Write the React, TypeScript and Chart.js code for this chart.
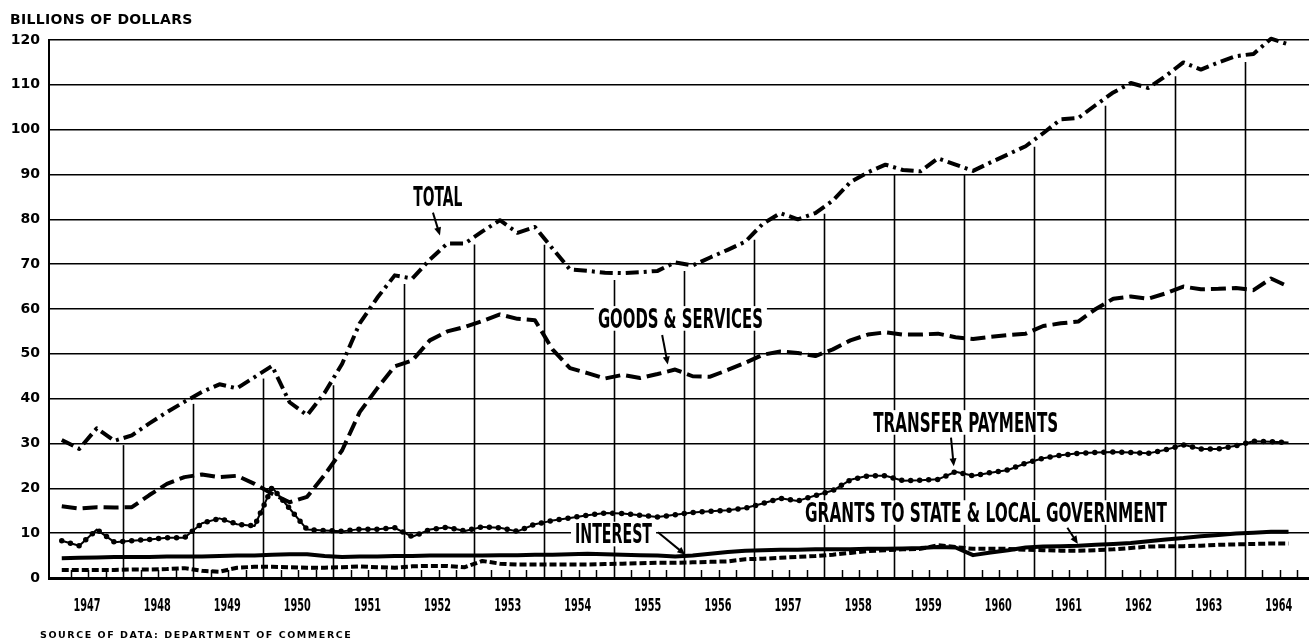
import React, { useEffect, useRef } from 'react';
import { Chart, registerables } from 'chart.js';

Chart.register(...registerables);

// ---------- DATA (quarterly, seasonally adjusted annual rates, billions of dollars) ----------
const START_YEAR = 1947;
const yearLabels = [1947, 1948, 1949, 1950, 1951, 1952, 1953, 1954, 1955, 1956, 1957, 1958, 1959, 1960, 1961, 1962, 1963, 1964];
const yTicks = [0, 10, 20, 30, 40, 50, 60, 70, 80, 90, 100, 110, 120];

const total = [
  30.8, 28.8, 33.4, 30.6,
  31.8, 34.5, 37.0, 39.3,
  41.5, 43.2, 42.3, 44.8,
  47.3, 39.2, 36.3, 41.3,
  47.8, 56.8, 62.5, 67.5,
  66.8, 71.0, 74.6, 74.6,
  77.3, 79.8, 77.0, 78.3,
  73.5, 68.8, 68.5, 68.1,
  68.0, 68.2, 68.5, 70.4,
  69.7, 71.5, 73.2, 75.0,
  79.0, 81.4, 80.0, 81.4,
  84.2, 88.3, 90.5, 92.2,
  91.0, 90.7, 93.6, 92.2,
  90.8, 92.7, 94.5, 96.3,
  99.2, 102.3, 102.6, 105.5,
  108.3, 110.4, 109.3, 112.0,
  115.0, 113.4, 115.0, 116.4,
  116.9, 120.3, 119.0,
];

const goodsServices = [
  16.0, 15.5, 15.8, 15.7,
  15.8, 18.5, 21.0, 22.5,
  23.1, 22.5, 22.8, 21.0,
  18.8, 16.9, 18.1, 23.0,
  28.5, 37.0, 42.3, 47.2,
  48.5, 53.0, 55.0, 56.0,
  57.3, 58.8, 57.8, 57.5,
  51.0, 46.8, 45.7, 44.5,
  45.3, 44.6, 45.5, 46.5,
  45.0, 44.9, 46.4, 48.0,
  49.8, 50.5, 50.2, 49.5,
  51.0, 53.0, 54.3, 54.8,
  54.3, 54.3, 54.5, 53.7,
  53.3, 53.8, 54.2, 54.5,
  56.2, 56.8, 57.2, 60.0,
  62.3, 62.8, 62.3, 63.5,
  65.0, 64.4, 64.5, 64.7,
  64.2, 66.8, 65.0,
];

const transferPayments = [
  8.3, 7.2, 10.8, 8.0,
  8.3, 8.6, 9.0, 9.0,
  12.2, 13.3, 12.0, 11.6,
  20.2, 15.5, 10.8, 10.6,
  10.4, 10.9, 10.9, 11.2,
  9.2, 10.8, 11.3, 10.5,
  11.4, 11.2, 10.4, 12.0,
  12.8, 13.4, 14.0, 14.5,
  14.4, 14.0, 13.6, 14.1,
  14.6, 14.9, 15.1, 15.6,
  16.6, 17.8, 17.2, 18.4,
  19.5, 21.9, 22.8, 22.8,
  21.7, 21.8, 22.0, 23.7,
  22.8, 23.5, 24.1, 25.6,
  26.7, 27.4, 27.8, 28.0,
  28.1, 28.0, 27.8, 28.6,
  29.7, 28.8, 28.8, 29.5,
  30.5, 30.4, 30.2,
];

const interest = [
  4.4, 4.5, 4.6, 4.7,
  4.7, 4.7, 4.8, 4.8,
  4.8, 4.9, 5.0, 5.0,
  5.2, 5.3, 5.3, 4.9,
  4.7, 4.8, 4.8, 4.9,
  4.9, 5.0, 5.0, 5.0,
  5.0, 5.1, 5.1, 5.2,
  5.2, 5.3, 5.4, 5.3,
  5.2, 5.1, 5.0, 4.8,
  5.0, 5.4, 5.8, 6.1,
  6.2, 6.3, 6.3, 6.4,
  6.4, 6.4, 6.5, 6.5,
  6.6, 6.7, 6.9, 6.8,
  5.1, 5.7, 6.2, 6.8,
  7.0, 7.1, 7.2, 7.4,
  7.6, 7.8, 8.2, 8.6,
  8.9, 9.3, 9.6, 9.9,
  10.1, 10.3, 10.3,
];

const grants = [
  1.8, 1.8, 1.8, 1.8,
  1.9, 1.9, 2.0, 2.2,
  1.6, 1.4, 2.3, 2.5,
  2.5, 2.4, 2.3, 2.3,
  2.4, 2.6, 2.4, 2.3,
  2.6, 2.7, 2.7, 2.4,
  3.8, 3.2, 3.0, 3.0,
  3.0, 3.0, 3.0, 3.1,
  3.2, 3.3, 3.4, 3.4,
  3.5, 3.6, 3.7, 4.2,
  4.3, 4.5, 4.7, 4.9,
  5.2, 5.6, 6.0, 6.2,
  6.4, 6.5, 7.3, 6.9,
  6.5, 6.5, 6.5, 6.3,
  6.2, 6.1, 6.1, 6.2,
  6.4, 6.7, 7.0, 7.1,
  7.1, 7.2, 7.4, 7.5,
  7.6, 7.7, 7.7,
];

// ---------- helpers ----------
const quarterX = (i: number) => START_YEAR + (i + 0.5) / 4;
const toPoints = (values: number[]) => values.map((v, i) => ({ x: quarterX(i), y: v }));

const valueAt = (values: number[], t: number) => {
  for (let i = 0; i < values.length - 1; i++) {
    const a = quarterX(i);
    const b = quarterX(i + 1);
    if (t >= a && t <= b) return values[i] + ((values[i + 1] - values[i]) * (t - a)) / (b - a);
  }
  return t < quarterX(0) ? values[0] : values[values.length - 1];
};

// annotation placement (data units) and styling
const notes = [
  { text: 'TOTAL', x: 1952.49, y: 85.0, width: 49, from: [1952.42, 81.5], to: [1952.52, 76.4] },
  { text: 'GOODS & SERVICES', x: 1955.95, y: 57.9, width: 165, from: [1955.69, 54.2], to: [1955.77, 47.6] },
  { text: 'TRANSFER PAYMENTS', x: 1960.02, y: 34.7, width: 185, from: [1959.81, 31.3], to: [1959.85, 24.9] },
  { text: 'GRANTS TO STATE & LOCAL GOVERNMENT', x: 1960.31, y: 14.6, width: 362, from: [1961.47, 11.2], to: [1961.62, 7.6] },
  { text: 'INTEREST', x: 1954.996, y: 9.8, width: 77, from: [1955.63, 10.2], to: [1956.02, 5.2] },
];

const NOTE_FONT = 'bold 26px "DejaVu Sans Condensed", "DejaVu Sans", sans-serif';
const CAP = 18.6;
const YEAR_FONT = 'bold 17px "DejaVu Sans Condensed", "DejaVu Sans", sans-serif';
const YEAR_LABEL_WIDTH = 27;

const decorPlugin = {
  id: 'decor',
  beforeDatasetsDraw(chart: any) {
    const { ctx, chartArea, scales } = chart;
    const xs = scales.x;
    const ys = scales.y;
    ctx.save();
    ctx.strokeStyle = '#000';
    // vertical year separators reaching up to just under the TOTAL line
    ctx.lineWidth = 1.6;
    for (let yr = START_YEAR + 1; yr <= yearLabels[yearLabels.length - 1]; yr++) {
      const px = Math.round(xs.getPixelForValue(yr)) + 0.5;
      const top = ys.getPixelForValue(valueAt(total, yr)) + 7;
      ctx.beginPath();
      ctx.moveTo(px, top);
      ctx.lineTo(px, chartArea.bottom + 2);
      ctx.stroke();
    }
    // quarterly tick marks on the base line
    ctx.lineWidth = 1.5;
    for (let q = 1; q <= yearLabels.length * 4; q++) {
      if (q % 4 === 0) continue;
      const t = START_YEAR + q / 4;
      const px = Math.round(xs.getPixelForValue(t)) + 0.5;
      if (px > chartArea.right - 2) break;
      ctx.beginPath();
      ctx.moveTo(px, chartArea.bottom);
      ctx.lineTo(px, chartArea.bottom - 8);
      ctx.stroke();
    }
    // labels with arrows
    for (const n of notes) {
      const cx = xs.getPixelForValue(n.x);
      const cy = ys.getPixelForValue(n.y);
      ctx.fillStyle = '#fff';
      ctx.fillRect(cx - n.width / 2 - 4, cy - CAP / 2 - 3, n.width + 8, CAP + 6);
      ctx.font = NOTE_FONT;
      const m = ctx.measureText(n.text).width;
      ctx.save();
      ctx.translate(cx, cy + CAP / 2);
      ctx.scale(n.width / m, 1);
      ctx.textAlign = 'center';
      ctx.textBaseline = 'alphabetic';
      ctx.fillStyle = '#000';
      ctx.fillText(n.text, 0, 0);
      ctx.restore();

      const x1 = xs.getPixelForValue(n.from[0]);
      const y1 = ys.getPixelForValue(n.from[1]);
      const x2 = xs.getPixelForValue(n.to[0]);
      const y2 = ys.getPixelForValue(n.to[1]);
      const ang = Math.atan2(y2 - y1, x2 - x1);
      const hl = 8;
      const hw = 3.5;
      ctx.lineWidth = 2;
      ctx.beginPath();
      ctx.moveTo(x1, y1);
      ctx.lineTo(x2 - Math.cos(ang) * hl * 0.8, y2 - Math.sin(ang) * hl * 0.8);
      ctx.stroke();
      ctx.fillStyle = '#000';
      ctx.beginPath();
      ctx.moveTo(x2, y2);
      ctx.lineTo(x2 - Math.cos(ang) * hl + Math.sin(ang) * hw, y2 - Math.sin(ang) * hl - Math.cos(ang) * hw);
      ctx.lineTo(x2 - Math.cos(ang) * hl - Math.sin(ang) * hw, y2 - Math.sin(ang) * hl + Math.cos(ang) * hw);
      ctx.closePath();
      ctx.fill();
    }
    ctx.restore();
  },
  afterDraw(chart: any) {
    // condensed year labels placed at the x scale's tick positions
    const { ctx, chartArea, scales } = chart;
    const xs = scales.x;
    ctx.save();
    ctx.font = YEAR_FONT;
    ctx.fillStyle = '#000';
    ctx.textAlign = 'center';
    ctx.textBaseline = 'alphabetic';
    const sx = YEAR_LABEL_WIDTH / ctx.measureText('1947').width;
    for (const tk of xs.ticks) {
      const px = xs.getPixelForValue(tk.value);
      ctx.save();
      ctx.translate(px - 1, chartArea.bottom + 33);
      ctx.scale(sx, 1);
      ctx.fillText(String(Math.floor(tk.value)), 0, 0);
      ctx.restore();
    }
    ctx.restore();
  },
};

const lineDefaults = {
  pointRadius: 0,
  pointHoverRadius: 0,
  tension: 0,
  borderColor: '#000',
  backgroundColor: '#000',
  fill: false,
  clip: 8,
  borderCapStyle: 'butt' as const,
  borderJoinStyle: 'round' as const,
};

export default function App() {
  const ref = useRef<HTMLCanvasElement>(null);

  useEffect(() => {
    if (!ref.current) return;
    const chart = new Chart(ref.current, {
      type: 'line',
      data: {
        datasets: [
          { ...lineDefaults, label: 'Total', data: toPoints(total), borderWidth: 4, borderDash: [13, 5, 3, 5] },
          { ...lineDefaults, label: 'Goods & services', data: toPoints(goodsServices), borderWidth: 4, borderDash: [15, 6] },
          { ...lineDefaults, label: 'Transfer payments', data: toPoints(transferPayments), borderWidth: 2 },
          {
            ...lineDefaults,
            label: 'Transfer payments (beads)',
            data: toPoints(transferPayments),
            borderWidth: 5.5,
            borderDash: [0, 9],
            borderCapStyle: 'round' as const,
          },
          { ...lineDefaults, label: 'Interest', data: toPoints(interest), borderWidth: 4 },
          { ...lineDefaults, label: 'Grants to state & local government', data: toPoints(grants), borderWidth: 4, borderDash: [7, 3] },
        ],
      },
      options: {
        responsive: false,
        animation: false,
        devicePixelRatio: 1,
        events: [],
        layout: { padding: { top: 40, left: 0, right: 0, bottom: 0 } },
        plugins: { legend: { display: false }, tooltip: { enabled: false }, title: { display: false } },
        scales: {
          x: {
            type: 'linear',
            min: 1946.943,
            max: 1964.917,
            afterFit: (s: any) => {
              s.height = 64;
            },
            afterBuildTicks: (s: any) => {
              s.ticks = yearLabels.map((y) => ({ value: y + 0.5 }));
            },
            grid: { display: false, drawTicks: false },
            border: { display: true, color: '#000', width: 3 },
            ticks: {
              display: false,
              autoSkip: false,
              maxRotation: 0,
              minRotation: 0,
              callback: (v: any) => String(Math.floor(Number(v))),
            },
          },
          y: {
            type: 'linear',
            min: 0,
            max: 120,
            afterFit: (s: any) => {
              s.width = 49;
            },
            afterBuildTicks: (s: any) => {
              s.ticks = yTicks.map((v) => ({ value: v }));
            },
            grid: { color: '#000', lineWidth: 1.5, drawTicks: false },
            border: { display: true, color: '#000', width: 2 },
            ticks: {
              padding: 9,
              color: '#000',
              font: { family: '"DejaVu Sans", sans-serif', weight: 'bold', size: 14 },
              callback: (v: any) => String(v),
            },
          },
        },
      },
      plugins: [decorPlugin],
    } as any);
    return () => chart.destroy();
  }, []);

  return (
    <div style={{ position: 'absolute', left: 0, top: 0, width: 1309, height: 642, background: '#fff', overflow: 'hidden' }}>
      <canvas ref={ref} width={1309} height={642} style={{ display: 'block', width: 1309, height: 642 }} />
      <div
        style={{
          position: 'absolute',
          left: 10,
          top: 12,
          font: 'bold 14px "DejaVu Sans", sans-serif',
          letterSpacing: '0.3px',
          lineHeight: '15px',
          color: '#000',
          whiteSpace: 'nowrap',
        }}
      >
        BILLIONS OF DOLLARS
      </div>
      <div
        style={{
          position: 'absolute',
          left: 40,
          top: 629,
          font: 'bold 9.5px "DejaVu Sans", sans-serif',
          letterSpacing: '1.55px',
          lineHeight: '12px',
          color: '#000',
          whiteSpace: 'nowrap',
        }}
      >
        SOURCE OF DATA: DEPARTMENT OF COMMERCE
      </div>
    </div>
  );
}
